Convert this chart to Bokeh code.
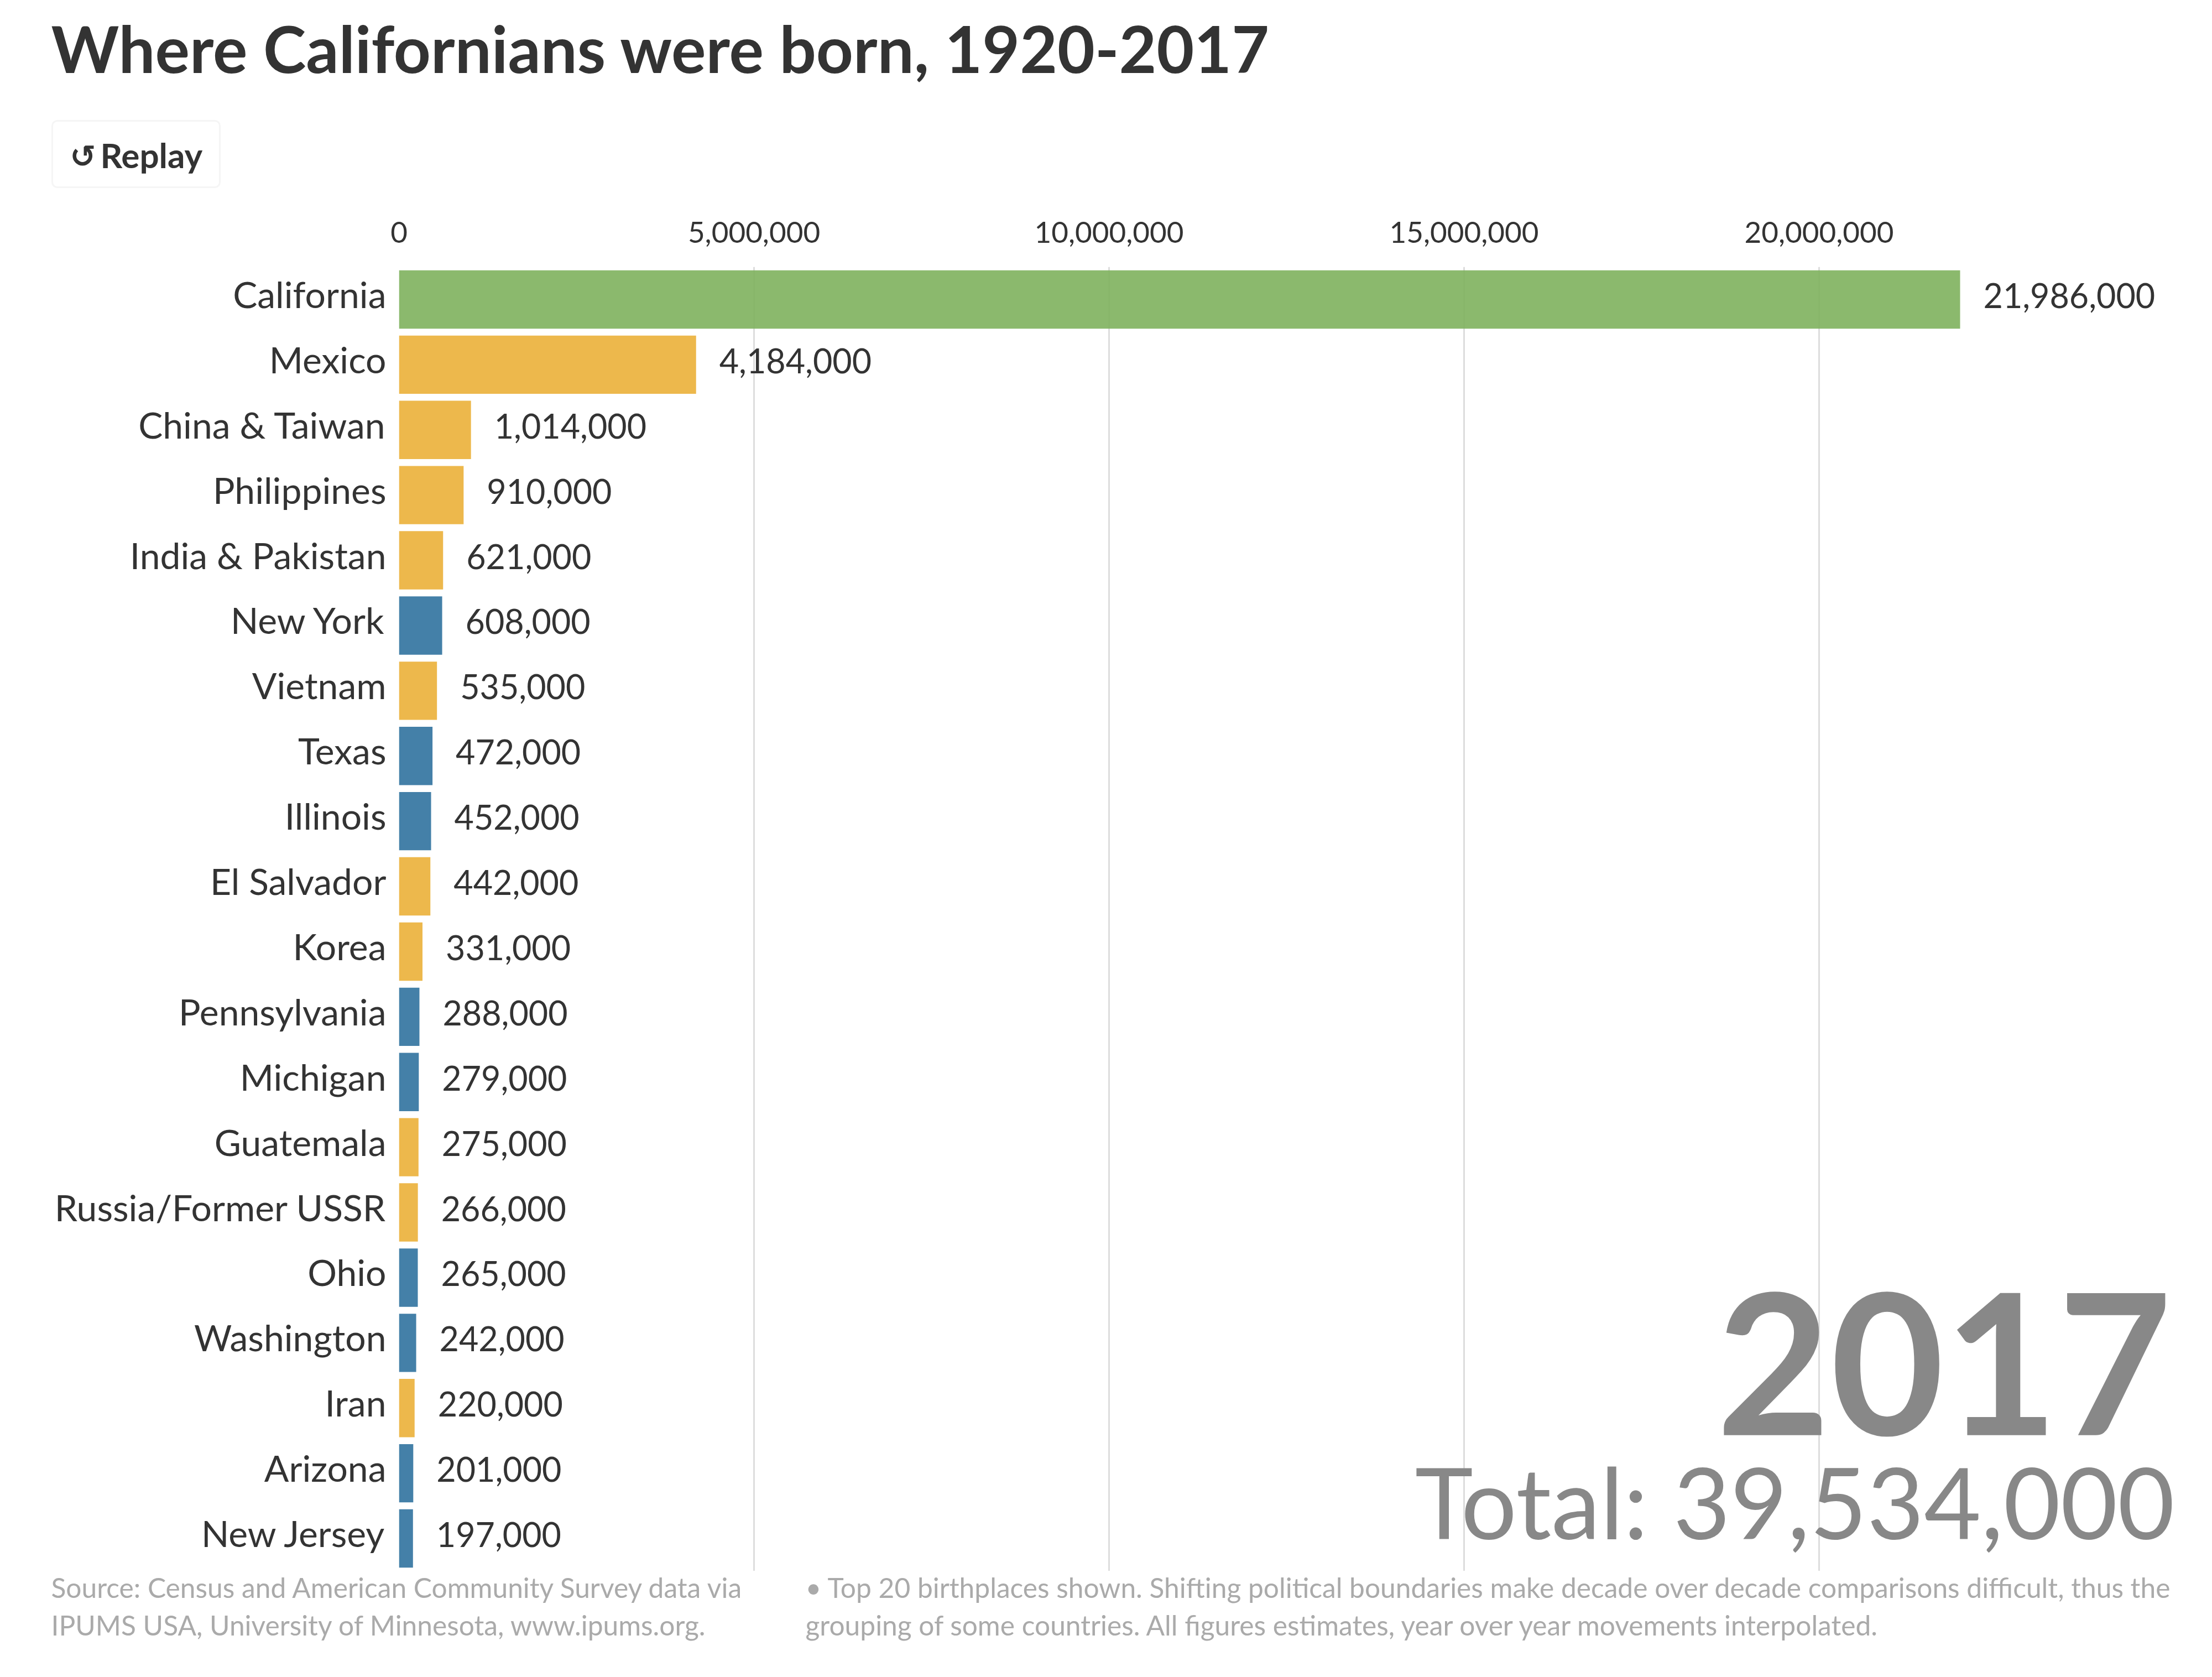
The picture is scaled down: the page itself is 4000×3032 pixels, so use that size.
from bokeh.plotting import figure
from bokeh.layouts import column
from bokeh.models import (Range1d, FixedTicker, NumeralTickFormatter, Label, BoxAnnotation,
                          ColumnDataSource, LinearAxis)
from bokeh.core.properties import value
from bokeh.embed import file_html
from bokeh.resources import INLINE

names = ["California", "Mexico", "China & Taiwan", "Philippines", "India & Pakistan", "New York", "Vietnam",
         "Texas", "Illinois", "El Salvador", "Korea", "Pennsylvania", "Michigan", "Guatemala",
         "Russia/Former USSR", "Ohio", "Washington", "Iran", "Arizona", "New Jersey"]
people = [21986000, 4184000, 1014000, 910000, 621000, 608000, 535000, 472000, 452000, 442000,
          331000, 288000, 279000, 275000, 266000, 265000, 242000, 220000, 201000, 197000]
origin = ["home", "abroad", "abroad", "abroad", "abroad", "state", "abroad", "state", "state", "abroad",
          "abroad", "state", "state", "abroad", "abroad", "state", "state", "abroad", "state", "state"]
palette = {"home": "#7EB15D", "abroad": "#EBB038", "state": "#30729E"}
ticks = [0, 5000000, 10000000, 15000000, 20000000]

FONT = "Lato"
W = 3992
HEAD_H, FOOT_H = 340, 184
LEFT, FRAME_TOP, FRAME_BOTTOM = 721, 482, 2840
x_end = (W - LEFT) / 128.4 * 1e6
rows = list(range(len(names)))


def strip(height):
    """A band of the page whose data coordinates are its own pixels, y running down."""
    f = figure(width=W, height=height, output_backend="svg", toolbar_location=None,
               x_range=Range1d(0, W), y_range=Range1d(height, 0),
               x_axis_location=None, y_axis_location=None, min_border=0, frame_align=False)
    f.outline_line_color = None
    f.grid.visible = False
    return f


def put(f, text, x, y, size, color, style="normal", font=FONT):
    f.text(x=[x], y=[y - 0.375 * size], text=[text], text_font=value(font), text_font_size=f"{size}px",
           text_color=color, text_font_style=style, text_baseline="alphabetic", text_align="left")


# ---- header
head = strip(HEAD_H)
put(head, "Where Californians were born, 1920-2017", 92, 130, 117, "#333333", "bold")
head.add_layout(BoxAnnotation(left=94, right=397, top=218, bottom=338, fill_color="white", fill_alpha=1,
                              line_color="#dedede", line_width=3, border_radius=9, level="underlay"))
put(head, "\u21ba", 126, 303, 56, "#333333", "bold", "DejaVu Sans")
put(head, "Replay", 181, 303, 62, "#333333", "bold")

# ---- chart
p = figure(width=W, height=FRAME_BOTTOM - HEAD_H, output_backend="svg", toolbar_location=None,
           x_range=Range1d(0, x_end), y_range=Range1d(len(names) - 0.5, -0.5),
           x_axis_location="above", y_axis_location=None, min_border_left=LEFT,
           min_border_top=FRAME_TOP - HEAD_H, min_border_bottom=0, min_border_right=0, frame_align=False)
p.outline_line_color = None
p.background_fill_color = "white"
p.border_fill_color = "white"

xa = p.xaxis[0]
xa.ticker = FixedTicker(ticks=ticks)
xa.formatter = NumeralTickFormatter(format="0,0")
xa.axis_line_color = None
xa.major_tick_line_color = None
xa.minor_tick_line_color = None
xa.major_label_text_font = FONT
xa.major_label_text_font_size = "53px"
xa.major_label_text_color = "#333333"
xa.major_label_standoff = 38

LABEL_SHIFT = 0.085
p.extra_y_ranges["labels"] = Range1d(len(names) - 0.5 + LABEL_SHIFT, -0.5 + LABEL_SHIFT)
ya = LinearAxis(y_range_name="labels", ticker=FixedTicker(ticks=rows),
                major_label_overrides={i: n for i, n in enumerate(names)})
ya.axis_line_color = None
ya.major_tick_line_color = None
ya.minor_tick_line_color = None
ya.major_label_text_font = FONT
ya.major_label_text_font_size = "66px"
ya.major_label_text_color = "#333333"
ya.major_label_standoff = 17
p.add_layout(ya, "left")

p.xgrid.grid_line_color = "#dddddd"
p.xgrid.grid_line_width = 3
p.xgrid.ticker = FixedTicker(ticks=ticks[1:])
p.ygrid.grid_line_color = None

src = ColumnDataSource(dict(row=rows, people=people, color=[palette[o] for o in origin],
                            label=[f"{v:,}" for v in people]))
p.hbar(y="row", right="people", left=0, height=0.894, source=src, fill_color="color",
       fill_alpha=0.9, line_color=None)
p.text(x="people", y="row", text="label", source=src, x_offset=42, y_offset=-7, text_baseline="middle",
       text_font=value(FONT), text_font_size="61px", text_color="#333333")


def big(text, right, baseline, size, style):
    p.add_layout(Label(x=right - LEFT, y=FRAME_BOTTOM - baseline + 0.375 * size, x_units="screen", y_units="screen",
                       text=text, text_font=FONT, text_font_size=f"{size}px", text_color="#888888",
                       text_font_style=style, text_align="right", text_baseline="alphabetic"))


big("2017", 3927, 2597, 355, "bold")
big("Total: 39,534,000", 3932, 2780, 178, "normal")

# ---- footer
foot = strip(FOOT_H)
put(foot, "Source: Census and American Community Survey data via", 92, 2888 - FRAME_BOTTOM, 49.7, "#aaaaaa")
put(foot, "IPUMS USA, University of Minnesota, www.ipums.org.", 92, 2956 - FRAME_BOTTOM, 49.7, "#aaaaaa")
put(foot, "\u2022 Top 20 birthplaces shown. Shifting political boundaries make decade over decade comparisons difficult, thus the",
    1456, 2888 - FRAME_BOTTOM, 49.7, "#aaaaaa")
put(foot, "grouping of some countries. All figures estimates, year over year movements interpolated.",
    1456, 2956 - FRAME_BOTTOM, 49.7, "#aaaaaa")

page = column(head, p, foot, spacing=0)
open("out.html", "w").write(file_html(page, INLINE))
